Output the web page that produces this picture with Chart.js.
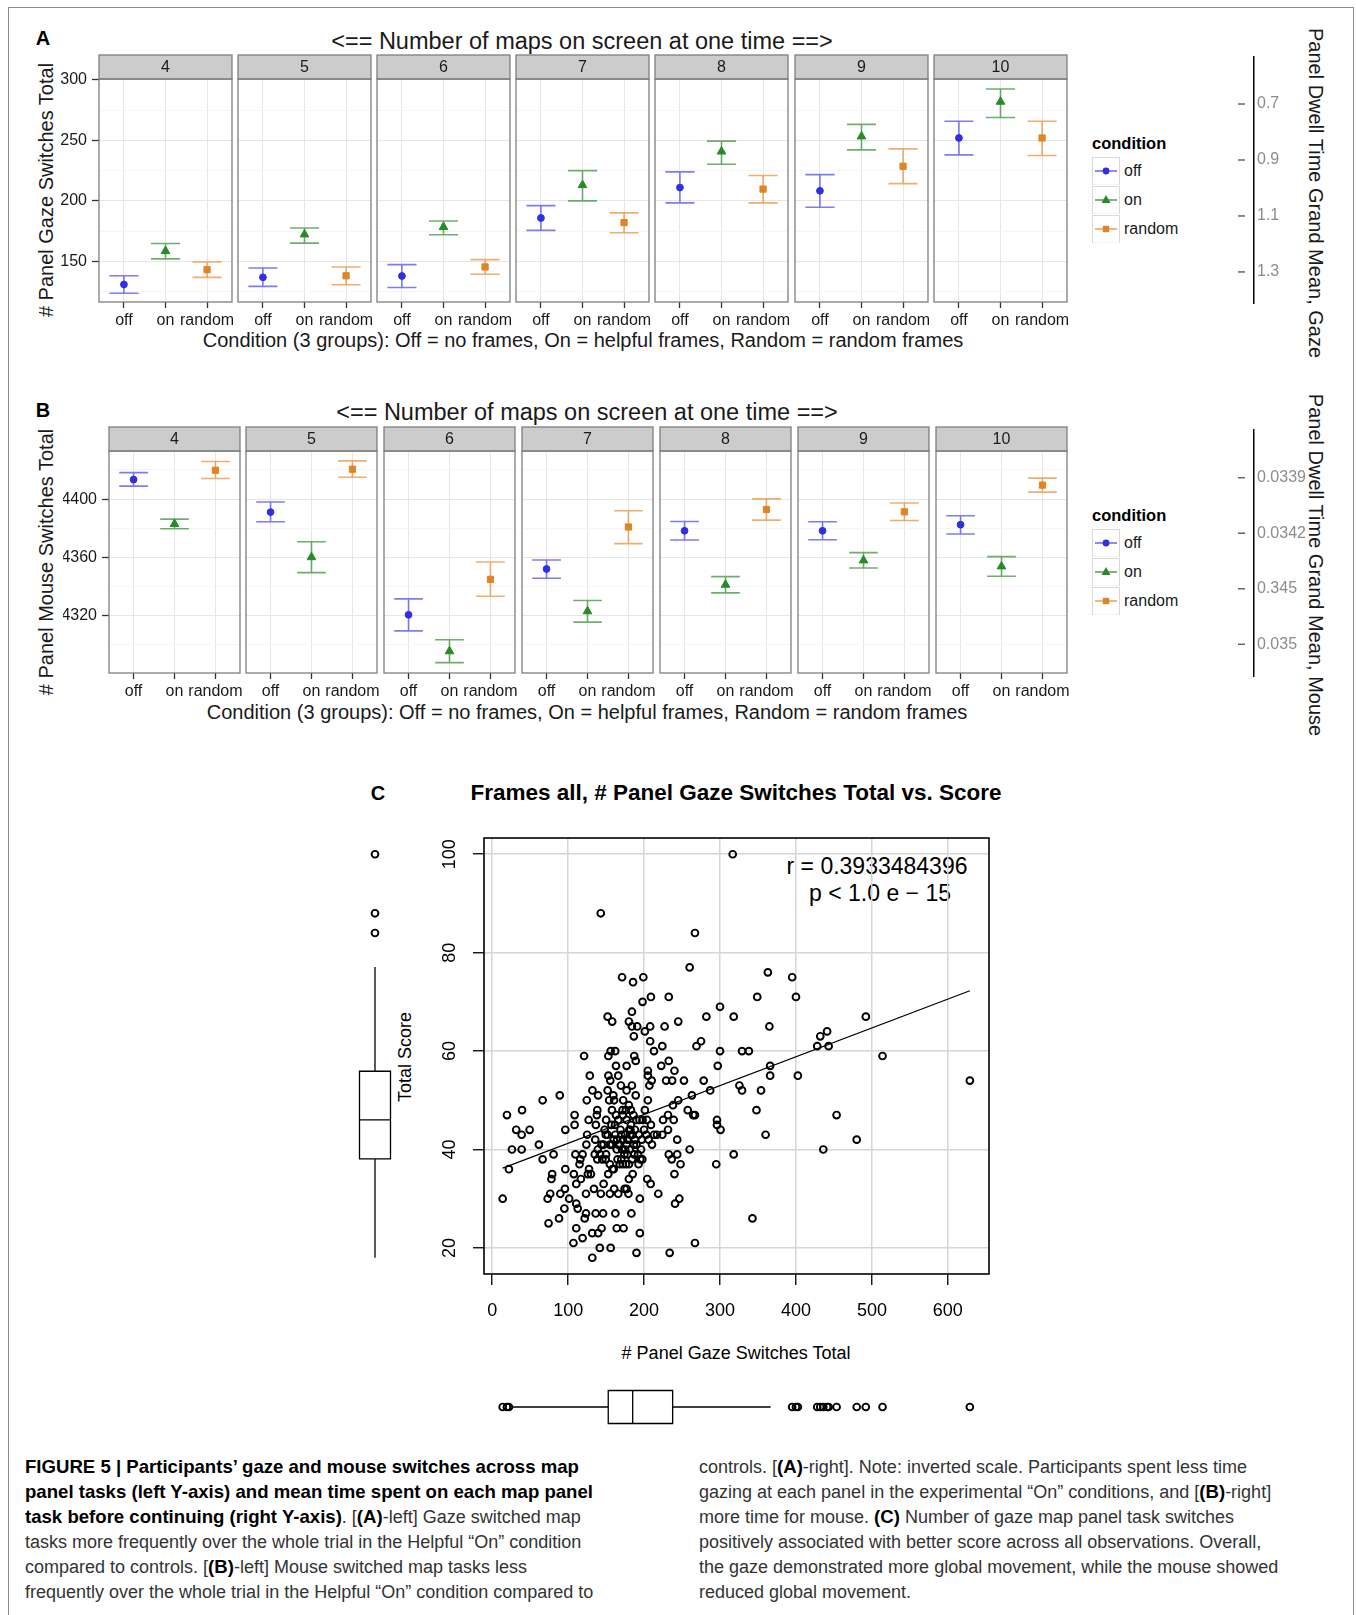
<!DOCTYPE html>
<html>
<head>
<meta charset="utf-8">
<script src="https://cdn.jsdelivr.net/npm/chart.js@4.4.0/dist/chart.umd.min.js"></script>
<style>
html, body { margin: 0; padding: 0; background: #fff; }
body { width: 1356px; height: 1615px; position: relative; overflow: hidden;
  font-family: "Liberation Sans", Arial, Helvetica, sans-serif; color: #1a1a1a; }
canvas { position: absolute; }
.t { position: absolute; white-space: nowrap; transform: translate(-50%, -50%); line-height: 1; }
.frame { position: absolute; left: 8px; top: 7px; width: 1346px; height: 1700px; border: 1.5px solid #8c8c8c; box-sizing: border-box; }
.cap { position: absolute; font-size: 18px; line-height: 25px; color: #333; white-space: nowrap; }
.cap b { color: #000; font-size: 18.6px; line-height: 1; }
.leg { position: absolute; font-size: 16px; }
.leg .ttl { font-weight: bold; font-size: 16.5px; height: 14px; line-height: 14px; margin-bottom: 7px; color: #000; }
.leg .row { height: 28.7px; display: flex; align-items: center; }
.leg svg { display: block; margin-right: 4px; }
</style>
</head>
<body>
<div class="frame"></div>

<!-- panel A texts -->
<div class="t" style="left:43px;top:38px;font-weight:bold;font-size:20px;color:#000">A</div>
<div class="t" style="left:582px;top:42px;font-size:23.5px">&lt;== Number of maps on screen at one time ==&gt;</div>
<div class="t" style="left:583px;top:340px;font-size:20px">Condition (3 groups): Off = no frames, On = helpful frames, Random = random frames</div>
<div class="t" style="left:46px;top:190px;font-size:20px;transform:translate(-50%,-50%) rotate(-90deg)"># Panel Gaze Switches Total</div>
<div class="t" style="left:1316px;top:193px;font-size:20px;transform:translate(-50%,-50%) rotate(90deg)">Panel Dwell Time Grand Mean, Gaze</div>

<!-- panel B texts -->
<div class="t" style="left:43px;top:410px;font-weight:bold;font-size:20px;color:#000">B</div>
<div class="t" style="left:587px;top:413px;font-size:23.5px">&lt;== Number of maps on screen at one time ==&gt;</div>
<div class="t" style="left:587px;top:712px;font-size:20px">Condition (3 groups): Off = no frames, On = helpful frames, Random = random frames</div>
<div class="t" style="left:46px;top:562px;font-size:20px;transform:translate(-50%,-50%) rotate(-90deg)"># Panel Mouse Switches Total</div>
<div class="t" style="left:1316px;top:565px;font-size:20px;transform:translate(-50%,-50%) rotate(90deg)">Panel Dwell Time Grand Mean, Mouse</div>

<!-- panel C texts -->
<div class="t" style="left:378px;top:793px;font-weight:bold;font-size:20px;color:#000">C</div>
<div class="t" style="left:736px;top:793px;font-weight:bold;font-size:22.5px;color:#000">Frames all, # Panel Gaze Switches Total vs. Score</div>
<div class="t" style="left:877px;top:866px;font-size:23px;color:#000">r = 0.3933484396</div>
<div class="t" style="left:880px;top:893px;font-size:23px;color:#000">p &lt; 1.0 e &minus; 15</div>
<div class="t" style="left:405px;top:1057px;font-size:18px;color:#000;transform:translate(-50%,-50%) rotate(-90deg)">Total Score</div>
<div class="t" style="left:736px;top:1353px;font-size:18px;color:#000"># Panel Gaze Switches Total</div>

<!-- caption -->
<div class="cap" style="left:25px;top:1455px">
<b>FIGURE 5 | Participants’ gaze and mouse switches across map</b><br>
<b>panel tasks (left Y-axis) and mean time spent on each map panel</b><br>
<b>task before continuing (right Y-axis)</b>. [<b>(A)</b>-left] Gaze switched map<br>
tasks more frequently over the whole trial in the Helpful “On” condition<br>
compared to controls. [<b>(B)</b>-left] Mouse switched map tasks less<br>
frequently over the whole trial in the Helpful “On” condition compared to
</div>
<div class="cap" style="left:699px;top:1455px">
controls. [<b>(A)</b>-right]. Note: inverted scale. Participants spent less time<br>
gazing at each panel in the experimental “On” conditions, and [<b>(B)</b>-right]<br>
more time for mouse. <b>(C)</b> Number of gaze map panel task switches<br>
positively associated with better score across all observations. Overall,<br>
the gaze demonstrated more global movement, while the mouse showed<br>
reduced global movement.
</div>

<script>
// ---- data ----
const mapCounts = ['4', '5', '6', '7', '8', '9', '10'];
const conditions = ['off', 'on', 'random'];

// [low, mean, high] for each map count
const gazeOff = [[123.6, 130.8, 138], [129.2, 136.7, 144.4], [128.3, 137.8, 147.2], [175.6, 185.8, 196], [198.3, 211, 224], [194.7, 208.3, 221.7], [238, 252, 265.8]];
const gazeOn = [[152, 158.4, 164.7], [165, 172.2, 177.5], [172, 178.3, 183.3], [200, 213, 225], [230.3, 240.8, 249.4], [242.2, 253.3, 263.3], [268.9, 282, 292.5]];
const gazeRandom = [[136.7, 143, 149.4], [130.6, 138, 145.3], [139.2, 145.3, 151.4], [173.6, 182, 190], [198.3, 209.7, 221], [214.2, 228.6, 243], [237.5, 252, 265.8]];

const mouseOff = [[4408.9, 4413.4, 4418.2], [4384.5, 4391.1, 4398], [4309.7, 4320.7, 4331.6], [4345.8, 4352.1, 4358.3], [4372, 4378.3, 4384.7], [4372.2, 4378.3, 4384.5], [4376.1, 4382.5, 4388.6]];
const mouseOn = [[4379.7, 4383, 4386.3], [4349.6, 4360.2, 4370.8], [4287.9, 4295.7, 4303.6], [4315.7, 4323.1, 4330.5], [4335.7, 4341.3, 4346.9], [4352.8, 4358, 4363.3], [4347.1, 4353.9, 4360.6]];
const mouseRandom = [[4414.1, 4419.8, 4425.8], [4415, 4420.5, 4426.2], [4333.4, 4345, 4356.9], [4369.5, 4380.9, 4392], [4385.6, 4392.9, 4400.2], [4385.4, 4391.3, 4397.3], [4404.8, 4409.6, 4414.4]];

const gazeTicks = [150, 200, 250, 300];
const gazeMinor = [125, 175, 225, 275];
const mouseTicks = [4320, 4360, 4400];
const mouseMinor = [4300, 4340, 4380, 4420];
const gazeDwellTicks = [0.7, 0.9, 1.1, 1.3];
const mouseDwellLabels = ['0.0339', '0.0342', '0.345', '0.035'];

// panel C: one entry per observation
const gazeSwitches = [
  316.7, 143, 267, 260, 363, 395, 171, 199, 185.5, 209,
  232.5, 349, 400, 198, 184, 300, 152, 158, 282, 318,
  492, 180, 184, 191, 208, 227, 245, 365, 201, 186.5,
  441, 432, 208, 275, 224, 269, 428, 443, 213, 156,
  162, 300, 329, 338, 121, 153, 187, 514, 189, 232.5,
  163, 177, 222.6, 297, 366, 205, 240, 128.5, 153, 166,
  205, 366, 402.5, 155.5, 210, 229, 237, 252.5, 278.5, 629,
  169.5, 184, 207, 325.5, 132, 152, 177, 287, 329, 354,
  139.5, 159.5, 189, 263, 89, 66.4, 124.5, 154, 160.5, 172.5,
  205, 245, 238, 39.3, 138.4, 157.7, 171.6, 182.7, 201, 257.5,
  348, 19.4, 108.5, 137.8, 231.5, 264.7, 267, 453.5, 127, 150,
  177, 194, 204, 225, 239, 296, 108.5, 136.5, 161.7, 182.7,
  209, 296, 31.6, 49.3, 96.3, 169, 180.5, 231.5, 300.7, 38.8,
  125, 149.5, 181.6, 213, 217, 224, 360, 135.7, 164.5, 188,
  197, 243.6, 480, 61.5, 124, 146.7, 155, 166, 177, 186.6,
  210.4, 26, 38.8, 164, 175, 196, 260, 436, 80.8, 109.6,
  119, 135, 232.5, 243.6, 318, 66.4, 116, 138.4, 149.5, 170,
  197.7, 236.4, 115, 180, 192.7, 248, 295, 22, 96.3, 127.5,
  158.4, 79, 107.5, 126, 130, 152.8, 240, 78, 116.8, 204.2,
  110.7, 146.7, 208.6, 95.8, 134, 160.6, 174.4, 177, 13.8, 73,
  76.4, 89.7, 101.3, 123.5, 143, 155, 166, 179.4, 194.4, 218.7,
  246.4, 240.8, 110.7, 95, 112.6, 121.8, 123.5, 136.2, 146, 162.2,
  183.3, 342.7, 88, 74.2, 110.7, 144, 164, 173, 131.7, 139.5,
  194.4, 119, 107, 267, 141.7, 156, 190, 233.7, 131.8,
  170, 172, 175, 178, 182, 185, 188, 190, 193, 168,
  171, 174, 178, 181, 184, 187, 192, 195, 162, 160,
  158, 157, 163, 166, 172, 176, 180, 186, 190, 198,
  200, 203, 206, 150, 145, 142, 139, 144, 148, 152,
  155, 160, 165, 168, 172, 176, 185, 180
];
const totalScore = [
  100, 88, 84, 77, 76, 75, 75, 75, 74, 71,
  71, 71, 71, 70, 68, 69, 67, 66, 67, 67,
  67, 66, 65, 65, 65, 65, 66, 65, 64, 63,
  64, 63, 62, 62, 61, 61, 61, 61, 60, 60,
  60, 60, 60, 60, 59, 59, 59, 59, 58, 58,
  57, 57, 57, 57, 57, 56, 56, 55, 55, 55,
  55, 55, 55, 54, 54, 54, 54, 54, 54, 54,
  53, 53, 53, 53, 52, 52, 52, 52, 52, 52,
  51, 51, 51, 51, 51, 50, 50, 50, 50, 50,
  50, 50, 49, 48, 48, 48, 48, 48, 48, 48,
  48, 47, 47, 47, 47, 47, 47, 47, 46, 46,
  46, 46, 46, 46, 46, 46, 45, 45, 45, 45,
  45, 45, 44, 44, 44, 44, 44, 44, 44, 43,
  43, 43, 43, 43, 43, 43, 43, 42, 42, 42,
  42, 42, 42, 41, 41, 41, 41, 41, 41, 41,
  41, 40, 40, 40, 40, 40, 40, 40, 39, 39,
  39, 39, 39, 39, 39, 38, 38, 38, 38, 38,
  38, 38, 37, 37, 37, 37, 37, 36, 36, 36,
  36, 35, 35, 35, 35, 35, 35, 34, 34, 34,
  33, 33, 33, 32, 32, 32, 32, 32, 30, 30,
  31, 31, 30, 31, 31, 31, 31, 31, 30, 31,
  30, 29, 29, 28, 28, 26, 27, 27, 27, 27,
  27, 26, 26, 25, 24, 24, 24, 24, 23, 23,
  23, 22, 21, 21, 20, 20, 19, 19, 18,
  43, 42, 43, 42, 44, 43, 44, 41, 43, 41,
  40, 39, 39, 40, 38, 39, 39, 38, 43, 42,
  41, 45, 47, 46, 47, 48, 49, 47, 46, 46,
  44, 43, 42, 39, 38, 39, 40, 41, 44, 43,
  37, 36, 38, 37, 37, 37, 35, 34
];
const fitIntercept = 35.4;
const fitSlope = 0.0586;
// [whisker low, Q1, median, Q3, whisker high]
const scoreBox = [18, 38.1, 46, 55.9, 77.1];
const switchBox = [26, 152.8, 185, 237.6, 366.6];
const switchTicks = [0, 100, 200, 300, 400, 500, 600];
const scoreTicks = [20, 40, 60, 80, 100];

// ---- styles ----
Chart.defaults.font.family = '"Liberation Sans", Arial, Helvetica, sans-serif';
Chart.defaults.color = '#1a1a1a';
const pointColors = ['#3030dc', '#2a8a2a', '#df8526'];
const barColors = ['rgba(70,70,235,0.7)', 'rgba(50,140,50,0.7)', 'rgba(230,140,50,0.7)'];
const pointStyles = ['circle', 'triangle', 'rect'];
const pointSizes = [3.4, 5, 4.4];

function makeCanvas(left, top, width, height) {
  const c = document.createElement('canvas');
  c.width = width; c.height = height;
  c.style.left = left + 'px'; c.style.top = top + 'px';
  c.style.width = width + 'px'; c.style.height = height + 'px';
  document.body.appendChild(c);
  return c;
}

const facetPlugin = {
  id: 'facet',
  beforeDatasetsDraw(chart) {
    const { ctx, scales: { x, y } } = chart;
    chart.data.datasets.forEach(ds => {
      ds.data.forEach(pt => {
        const cx = x.getPixelForValue(pt.x);
        const x0 = x.getPixelForValue(pt.x - 0.35), x1 = x.getPixelForValue(pt.x + 0.35);
        const yl = y.getPixelForValue(pt.lo), yh = y.getPixelForValue(pt.hi);
        ctx.save();
        ctx.strokeStyle = ds.barColor; ctx.lineWidth = 1.6;
        ctx.beginPath();
        ctx.moveTo(x0, yh); ctx.lineTo(x1, yh);
        ctx.moveTo(x0, yl); ctx.lineTo(x1, yl);
        ctx.moveTo(cx, yh); ctx.lineTo(cx, yl);
        ctx.stroke();
        ctx.restore();
      });
    });
  },
  afterDraw(chart, args, opts) {
    const { ctx, chartArea: a } = chart;
    ctx.save();
    ctx.strokeStyle = '#7f7f7f'; ctx.lineWidth = 1.3;
    ctx.fillStyle = '#cccccc';
    ctx.fillRect(a.left, opts.stripY, a.width, a.top - opts.stripY);
    ctx.strokeRect(a.left, opts.stripY, a.width, a.top - opts.stripY);
    ctx.strokeRect(a.left, a.top, a.width, a.height);
    ctx.fillStyle = '#1a1a1a';
    ctx.font = '16px "Liberation Sans", Arial, sans-serif';
    ctx.textAlign = 'center'; ctx.textBaseline = 'middle';
    ctx.fillText(opts.label, (a.left + a.right) / 2, (opts.stripY + a.top) / 2 + 1);
    ctx.restore();
  }
};

function facetChart(p, i) {
  const L = Math.round(p.left0 + i * p.step);
  const yW = i === 0 ? 46 : 0;
  const padL = 14, padR = 14, xH = 36;
  const cTop = p.stripTop - 4;
  const w = padL + yW + p.w + padR;
  const h = (p.bottom - cTop) + xH + 2;
  const canvas = makeCanvas(L - padL - yW, cTop, w, h);
  const allY = p.ticks.concat(p.minor).sort((a, b) => a - b);
  const datasets = p.series.map((s, k) => ({
    label: conditions[k],
    data: [{ x: k + 1, y: s[i][1], lo: s[i][0], hi: s[i][2] }],
    pointStyle: pointStyles[k],
    pointRadius: pointSizes[k],
    backgroundColor: pointColors[k],
    borderColor: pointColors[k],
    borderWidth: 1,
    barColor: barColors[k]
  }));
  new Chart(canvas, {
    type: 'scatter',
    data: { datasets },
    options: {
      responsive: false, animation: false, events: [],
      layout: { padding: { left: padL, right: padR, top: p.top - cTop, bottom: 2 } },
      plugins: { legend: { display: false }, tooltip: { enabled: false },
        facet: { label: mapCounts[i], stripY: p.stripTop - cTop } },
      scales: {
        x: {
          type: 'linear', min: 0.4, max: 3.6,
          afterBuildTicks: s => { s.ticks = [1, 2, 3].map(v => ({ value: v })); },
          afterFit: s => { s.height = xH; },
          ticks: { callback: v => conditions[v - 1], maxRotation: 0, minRotation: 0, autoSkip: false,
            padding: 3, color: '#1a1a1a', font: { size: 16 } },
          grid: { color: '#e6e6e6', tickLength: 6, tickColor: '#333', tickWidth: 1.3 },
          border: { display: false }
        },
        y: {
          min: p.min, max: p.max,
          afterBuildTicks: s => { s.ticks = allY.map(v => ({ value: v })); },
          afterFit: s => { s.width = yW; },
          ticks: { display: i === 0, callback: v => p.ticks.includes(v) ? String(v) : '',
            padding: 5, color: '#1a1a1a', font: { size: 16 } },
          grid: {
            color: c => (c.tick && p.ticks.includes(c.tick.value)) ? '#e6e6e6' : '#f5f5f5',
            drawTicks: i === 0, tickLength: 7, tickWidth: 1.3,
            tickColor: c => (c.tick && p.ticks.includes(c.tick.value)) ? '#333' : 'rgba(0,0,0,0)'
          },
          border: { display: false }
        }
      }
    },
    plugins: [facetPlugin]
  });
}

const panelA = { left0: 99, step: 139.1, w: 133, stripTop: 55, top: 79, bottom: 302,
  min: 116.3, max: 300.8, ticks: gazeTicks, minor: gazeMinor, series: [gazeOff, gazeOn, gazeRandom] };
const panelB = { left0: 108.5, step: 137.9, w: 131, stripTop: 427, top: 451, bottom: 673,
  min: 4280.8, max: 4433, ticks: mouseTicks, minor: mouseMinor, series: [mouseOff, mouseOn, mouseRandom] };
mapCounts.forEach((m, i) => { facetChart(panelA, i); facetChart(panelB, i); });

// ---- legends ----
function keySvg(k) {
  const col = pointColors[k];
  let sym = '';
  if (k === 0) sym = `<circle cx="14" cy="14" r="3.4" fill="${col}"/>`;
  if (k === 1) sym = `<polygon points="14,9 18.5,17 9.5,17" fill="${col}"/>`;
  if (k === 2) sym = `<rect x="10.8" y="10.8" width="6.4" height="6.4" fill="${col}"/>`;
  return `<svg width="28" height="28"><rect x="0.5" y="0.5" width="27" height="27.7" fill="#fff" stroke="#d9d9d9"/>` +
    `<line x1="3" y1="14" x2="25" y2="14" stroke="${barColors[k]}" stroke-width="1.8"/>${sym}</svg>`;
}
function legend(left, top) {
  const d = document.createElement('div');
  d.className = 'leg';
  d.style.left = left + 'px'; d.style.top = top + 'px';
  d.innerHTML = '<div class="ttl">condition</div>' +
    conditions.map((c, k) => `<div class="row">${keySvg(k)}<span>${c}</span></div>`).join('');
  document.body.appendChild(d);
}
legend(1092, 136);
legend(1092, 508);

// ---- right-hand dwell time axes ----
const dashPlugin = {
  id: 'dashes',
  afterDraw(chart) {
    const { ctx } = chart;
    const s = chart.scales.y;
    ctx.save();
    ctx.strokeStyle = '#666'; ctx.lineWidth = 1.5;
    s.ticks.forEach(t => {
      const yy = s.getPixelForValue(t.value);
      ctx.beginPath(); ctx.moveTo(s.left - 16, yy); ctx.lineTo(s.left - 9, yy); ctx.stroke();
    });
    ctx.restore();
  }
};
function dwellAxis(axisTop, cfg) {
  const pad = 20, len = 246;
  const c = makeCanvas(1222, axisTop - pad, 100, len + 2 * pad);
  new Chart(c, {
    type: 'scatter', data: { datasets: [] },
    options: {
      responsive: false, animation: false, events: [],
      layout: { padding: { top: pad, bottom: pad, left: 0, right: 0 } },
      plugins: { legend: { display: false }, tooltip: { enabled: false } },
      scales: {
        x: { display: false },
        y: {
          position: 'right', reverse: true, min: cfg.min, max: cfg.max,
          afterBuildTicks: s => { s.ticks = cfg.values.map(v => ({ value: v })); },
          afterFit: s => { s.width = 68; },
          ticks: { callback: cfg.label, color: '#8c8c8c', font: { size: 16 }, padding: 3 },
          grid: { display: false, drawTicks: false },
          border: { display: true, color: '#000', width: 1.5 }
        }
      }
    },
    plugins: [dashPlugin]
  });
}
dwellAxis(57, { min: 0.532, max: 1.411, values: gazeDwellTicks, label: v => String(v) });
dwellAxis(430, { min: 0.141, max: 4.571, values: mouseDwellLabels.map((l, i) => i + 1), label: v => mouseDwellLabels[v - 1] });

// ---- panel C scatter ----
const xMin = -10.8, xMax = 654.2, yMin = 14.7, yMax = 103.3;
const framePlugin = {
  id: 'frameBox',
  afterDraw(chart, args, opts) {
    const { ctx, chartArea: a } = chart;
    ctx.save();
    ctx.strokeStyle = '#000'; ctx.lineWidth = 1.6;
    ctx.strokeRect(a.left, a.top, a.width, a.height);
    const s = chart.scales.y;
    ctx.fillStyle = '#000';
    ctx.font = '18px "Liberation Sans", Arial, sans-serif';
    ctx.textAlign = 'center'; ctx.textBaseline = 'middle';
    scoreTicks.forEach(v => {
      ctx.save();
      ctx.translate(opts.labelX, s.getPixelForValue(v));
      ctx.rotate(-Math.PI / 2);
      ctx.fillText(String(v), 0, 0);
      ctx.restore();
    });
    ctx.restore();
  }
};
const gxMin = Math.min(...gazeSwitches), gxMax = Math.max(...gazeSwitches);
const circleStyle = { pointStyle: 'circle', pointRadius: 3.4, borderWidth: 1.9, borderColor: '#000', backgroundColor: 'rgba(0,0,0,0)' };
new Chart(makeCanvas(420, 828, 580, 490), {
  type: 'scatter',
  data: {
    datasets: [
      Object.assign({ data: gazeSwitches.map((g, i) => ({ x: g, y: totalScore[i] })) }, circleStyle),
      { type: 'line', data: [gxMin, gxMax].map(g => ({ x: g, y: fitIntercept + fitSlope * g })),
        borderColor: '#000', borderWidth: 1.2, pointRadius: 0, fill: false }
    ]
  },
  options: {
    responsive: false, animation: false, events: [],
    layout: { padding: { left: 0, right: 11, top: 10, bottom: 0 } },
    plugins: { legend: { display: false }, tooltip: { enabled: false }, frameBox: { labelX: 30 } },
    scales: {
      x: {
        type: 'linear', min: xMin, max: xMax,
        afterBuildTicks: s => { s.ticks = switchTicks.map(v => ({ value: v })); },
        afterFit: s => { s.height = 44; },
        ticks: { font: { size: 18 }, color: '#000', padding: 15, maxRotation: 0, autoSkip: false },
        grid: { color: '#d6d6d6', lineWidth: 1.5, tickLength: 11, tickColor: '#000', tickWidth: 1.3 },
        border: { display: false }
      },
      y: {
        min: yMin, max: yMax,
        afterBuildTicks: s => { s.ticks = scoreTicks.map(v => ({ value: v })); },
        afterFit: s => { s.width = 64; },
        ticks: { display: false },
        grid: { color: '#d6d6d6', lineWidth: 1.5, tickLength: 11, tickColor: '#000', tickWidth: 1.3 },
        border: { display: false }
      }
    }
  },
  plugins: [framePlugin]
});

// ---- marginal boxplots ----
const boxPlugin = {
  id: 'box',
  afterDatasetsDraw(chart, args, o) {
    const { ctx, scales: { x, y } } = chart;
    const valScale = o.vertical ? y : x, posScale = o.vertical ? x : y;
    const c = posScale.getPixelForValue(0.5);
    const [lo, q1, med, q3, hi] = o.stats.map(s => valScale.getPixelForValue(s));
    const hw = o.halfWidth;
    ctx.save();
    ctx.strokeStyle = '#000'; ctx.lineWidth = 1.3;
    ctx.beginPath();
    if (o.vertical) {
      ctx.rect(c - hw, q3, 2 * hw, q1 - q3);
      ctx.moveTo(c - hw, med); ctx.lineTo(c + hw, med);
      ctx.moveTo(c, q3); ctx.lineTo(c, hi);
      ctx.moveTo(c, q1); ctx.lineTo(c, lo);
    } else {
      ctx.rect(q1, c - hw, q3 - q1, 2 * hw);
      ctx.moveTo(med, c - hw); ctx.lineTo(med, c + hw);
      ctx.moveTo(q1, c); ctx.lineTo(lo, c);
      ctx.moveTo(q3, c); ctx.lineTo(hi, c);
    }
    ctx.stroke();
    ctx.restore();
  }
};

const scoreOut = totalScore.filter(v => v < scoreBox[0] || v > scoreBox[4]);
new Chart(makeCanvas(340, 828, 70, 490), {
  type: 'scatter',
  data: { datasets: [Object.assign({ data: scoreOut.map(v => ({ x: 0.5, y: v })) }, circleStyle)] },
  options: {
    responsive: false, animation: false, events: [],
    layout: { padding: { left: 0, right: 0, top: 10, bottom: 44 } },
    plugins: { legend: { display: false }, tooltip: { enabled: false },
      box: { vertical: true, stats: scoreBox, halfWidth: 15.5 } },
    scales: { x: { display: false, min: 0, max: 1 }, y: { display: false, min: yMin, max: yMax } }
  },
  plugins: [boxPlugin]
});

const switchOut = gazeSwitches.filter(v => v < switchBox[0] || v > switchBox[4]);
new Chart(makeCanvas(420, 1387, 580, 40), {
  type: 'scatter',
  data: { datasets: [Object.assign({ data: switchOut.map(v => ({ x: v, y: 0.5 })) }, circleStyle)] },
  options: {
    responsive: false, animation: false, events: [],
    layout: { padding: { left: 64, right: 11, top: 0, bottom: 0 } },
    plugins: { legend: { display: false }, tooltip: { enabled: false },
      box: { vertical: false, stats: switchBox, halfWidth: 16.5 } },
    scales: { x: { display: false, min: xMin, max: xMax }, y: { display: false, min: 0, max: 1 } }
  },
  plugins: [boxPlugin]
});
</script>
</body>
</html>
